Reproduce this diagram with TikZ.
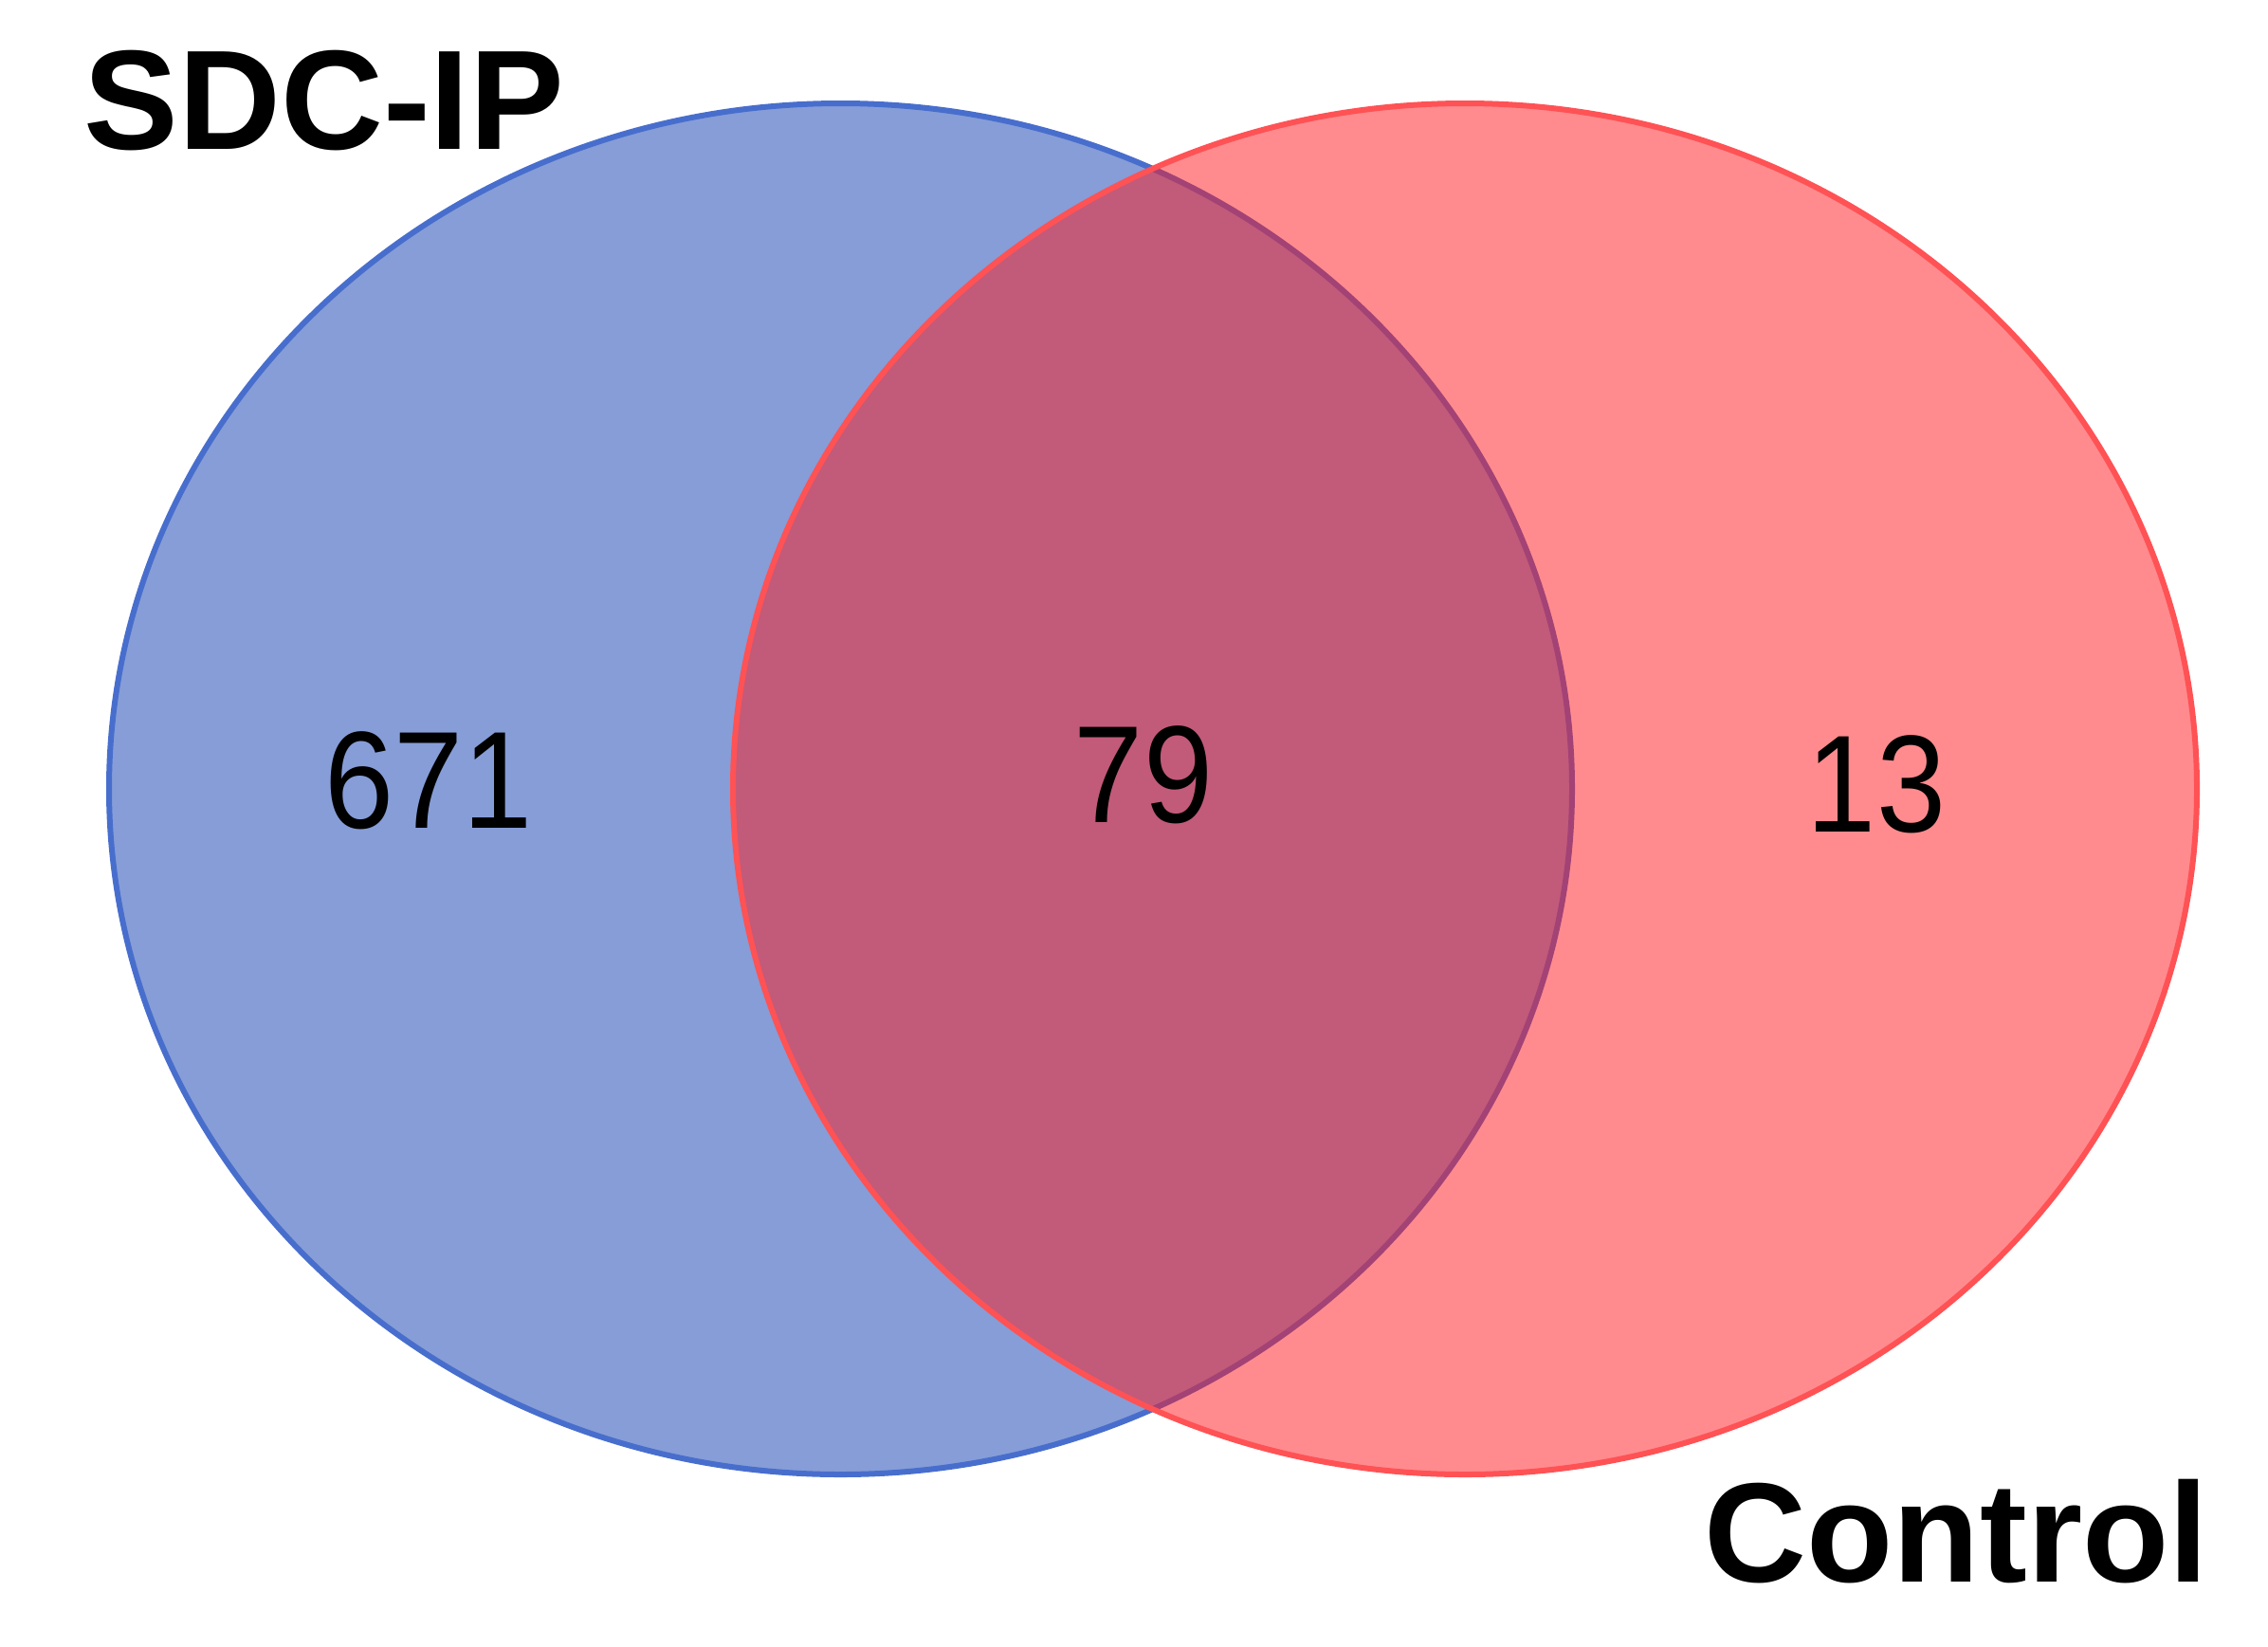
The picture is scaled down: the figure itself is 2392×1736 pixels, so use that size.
\documentclass[tikz,border=0pt]{standalone}
\usepackage{fontspec}
\setmainfont{Liberation Sans}
\definecolor{bluefill}{RGB}{134,157,215}
\definecolor{blueline}{RGB}{72,110,205}
\definecolor{redfill}{RGB}{255,24,30}
\definecolor{redline}{RGB}{255,82,85}
\tikzset{
  setlabel/.style={inner sep=0pt, anchor=base west, font=\fontsize{42.5}{50}\selectfont\bfseries},
  countlabel/.style={inner sep=0pt, anchor=base, font=\fontsize{41.5}{50}\selectfont},
  ring/.style={line width=0.06cm}
}
\begin{document}
\begin{tikzpicture}[x=0.01cm, y=-0.01cm]
  \useasboundingbox (0,0) rectangle (2392,1736);
  % SDC-IP set
  \fill[bluefill] (886.5,832) ellipse [x radius=771.5, y radius=723];
  \draw[ring, blueline] (886.5,832) ellipse [x radius=771.5, y radius=723];
  % Control set
  \fill[redfill, fill opacity=0.5] (1545,832) ellipse [x radius=772, y radius=723];
  \draw[ring, redline] (1545,832) ellipse [x radius=772, y radius=723];
  % labels
  \node[setlabel] (sdc) at (88,157) {SDC-IP};
  \node[setlabel] (ctl) at (1797,1668) {Control};
  \node[countlabel] (n671) at (452,873) {\scalebox{0.9}[1]{671}};
  \node[countlabel] (n79) at (1206,867) {\scalebox{0.9}[1]{79}};
  \node[countlabel] (n13) at (1979,877) {\scalebox{0.9}[1]{13}};
\end{tikzpicture}
\end{document}
